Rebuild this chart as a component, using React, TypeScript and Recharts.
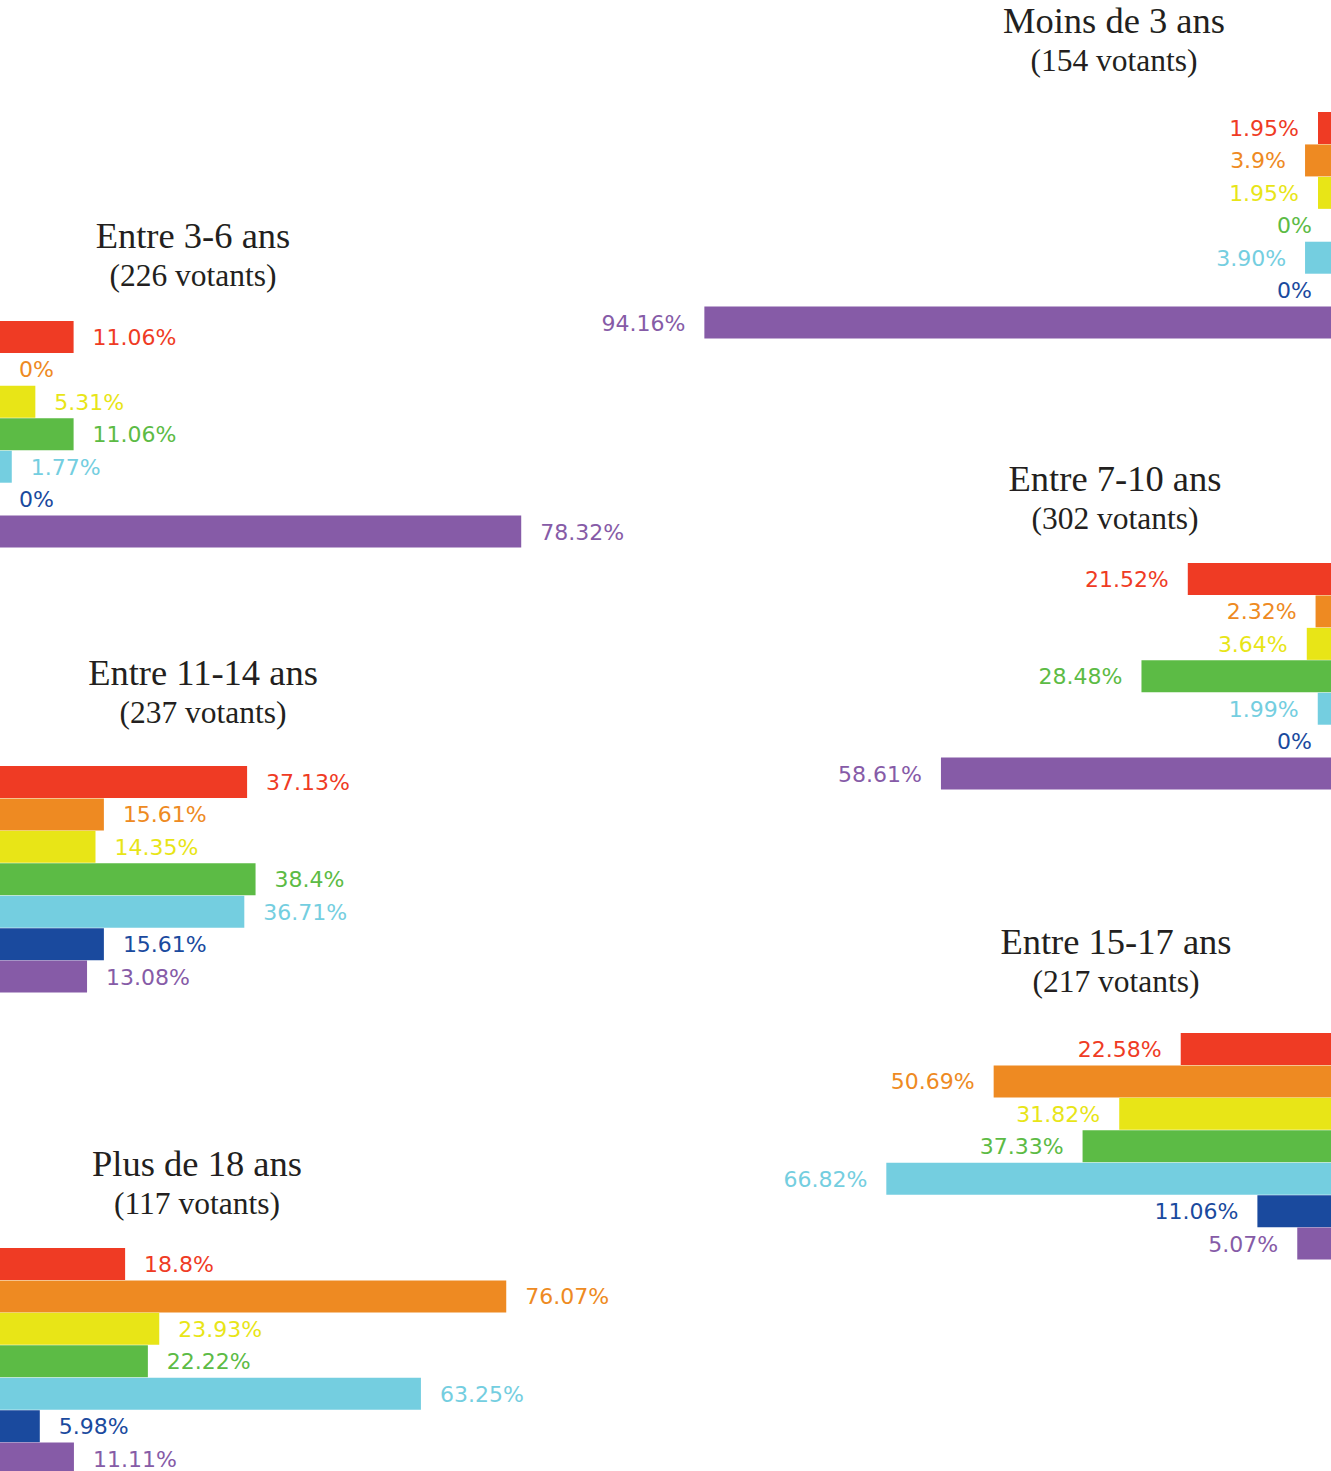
import React from 'react';
import { BarChart, Bar, XAxis, YAxis, Cell, LabelList } from 'recharts';

const CATEGORIES = ['Rouge', 'Orange', 'Jaune', 'Vert', 'Bleu clair', 'Bleu foncé', 'Violet'];
const COLORS = ['#ef3b24', '#ee8a22', '#e8e517', '#5cbb45', '#74cee0', '#1a4a9e', '#865ba7'];

const moins3Values = [1.95, 3.9, 1.95, 0, 3.9, 0, 94.16];
const moins3Labels = ['1.95%', '3.9%', '1.95%', '0%', '3.90%', '0%', '94.16%'];

const entre36Values = [11.06, 0, 5.31, 11.06, 1.77, 0, 78.32];
const entre36Labels = ['11.06%', '0%', '5.31%', '11.06%', '1.77%', '0%', '78.32%'];

const entre710Values = [21.52, 2.32, 3.64, 28.48, 1.99, 0, 58.61];
const entre710Labels = ['21.52%', '2.32%', '3.64%', '28.48%', '1.99%', '0%', '58.61%'];

const entre1114Values = [37.13, 15.61, 14.35, 38.4, 36.71, 15.61, 13.08];
const entre1114Labels = ['37.13%', '15.61%', '14.35%', '38.4%', '36.71%', '15.61%', '13.08%'];

const entre1517Values = [22.58, 50.69, 31.82, 37.33, 66.82, 11.06, 5.07];
const entre1517Labels = ['22.58%', '50.69%', '31.82%', '37.33%', '66.82%', '11.06%', '5.07%'];

const plus18Values = [18.8, 76.07, 23.93, 22.22, 63.25, 5.98, 11.11];
const plus18Labels = ['18.8%', '76.07%', '23.93%', '22.22%', '63.25%', '5.98%', '11.11%'];

const W = 1331;
const H = 1471;
const CHART_H = 227;
const LABEL_GAP = 19;

type Side = 'left' | 'right';

function GroupChart({ values, labels, side, top }: { values: number[]; labels: string[]; side: Side; top: number }) {
  const data = CATEGORIES.map((name, i) => ({ name, value: values[i], label: labels[i] }));

  const renderLabel = (props: any) => {
    const idx = props.index;
    const x = Number(props.x);
    const y = Number(props.y);
    const h = Number(props.height) || 0;
    // zero bars get a 1px invisible stub (minPointSize) so they keep their label
    const w = data[idx] && data[idx].value === 0 ? 0 : Number(props.width) || 0;
    let lo = Math.min(x, x + w);
    let hi = Math.max(x, x + w);
    if (data[idx] && data[idx].value === 0) {
      lo = side === 'right' ? W : 0;
      hi = lo;
    }
    const tx = side === 'left' ? hi + LABEL_GAP : lo - LABEL_GAP;
    return (
      <text
        x={tx}
        y={y + h / 2}
        dy={8}
        textAnchor={side === 'left' ? 'start' : 'end'}
        fill={COLORS[idx]}
        fontSize={22}
        fontFamily="'DejaVu Sans', Verdana, sans-serif"
      >
        {props.value}
      </text>
    );
  };

  return (
    <div style={{ position: 'absolute', left: 0, top, width: W, height: CHART_H }}>
      <BarChart
        width={W}
        height={CHART_H}
        data={data}
        layout="vertical"
        margin={{ top: 0, right: 0, bottom: 0, left: 0 }}
        barCategoryGap={0}
      >
        <XAxis type="number" domain={[0, 200]} hide reversed={side === 'right'} />
        <YAxis type="category" dataKey="name" hide />
        <Bar dataKey="value" isAnimationActive={false} minPointSize={1}>
          {data.map((d, i) => (
            <Cell key={d.name} fill={COLORS[i]} fillOpacity={d.value === 0 ? 0 : 1} />
          ))}
          <LabelList dataKey="label" content={renderLabel} />
        </Bar>
      </BarChart>
    </div>
  );
}

const titles = [
  { title: 'Moins de 3 ans', sub: '(154 votants)', cx: 1114, y: 33 },
  { title: 'Entre 3-6 ans', sub: '(226 votants)', cx: 193, y: 248 },
  { title: 'Entre 7-10 ans', sub: '(302 votants)', cx: 1115, y: 491 },
  { title: 'Entre 11-14 ans', sub: '(237 votants)', cx: 203, y: 685 },
  { title: 'Entre 15-17 ans', sub: '(217 votants)', cx: 1116, y: 954 },
  { title: 'Plus de 18 ans', sub: '(117 votants)', cx: 197, y: 1176 },
];

export default function App() {
  return (
    <div style={{ position: 'absolute', left: 0, top: 0, width: W, height: H, overflow: 'hidden', background: '#fff' }}>
      <GroupChart values={moins3Values} labels={moins3Labels} side="right" top={112} />
      <GroupChart values={entre36Values} labels={entre36Labels} side="left" top={321} />
      <GroupChart values={entre710Values} labels={entre710Labels} side="right" top={563} />
      <GroupChart values={entre1114Values} labels={entre1114Labels} side="left" top={766} />
      <GroupChart values={entre1517Values} labels={entre1517Labels} side="right" top={1033} />
      <GroupChart values={plus18Values} labels={plus18Labels} side="left" top={1248} />
      <svg width={W} height={H} style={{ position: 'absolute', left: 0, top: 0, pointerEvents: 'none' }}>
        {titles.map((t) => (
          <g key={t.title} fontFamily="'Liberation Serif', 'Times New Roman', serif" fill="#231f20" textAnchor="middle">
            <text x={t.cx} y={t.y} fontSize={36.5}>{t.title}</text>
            <text x={t.cx} y={t.y + 38} fontSize={31.5}>{t.sub}</text>
          </g>
        ))}
      </svg>
    </div>
  );
}
